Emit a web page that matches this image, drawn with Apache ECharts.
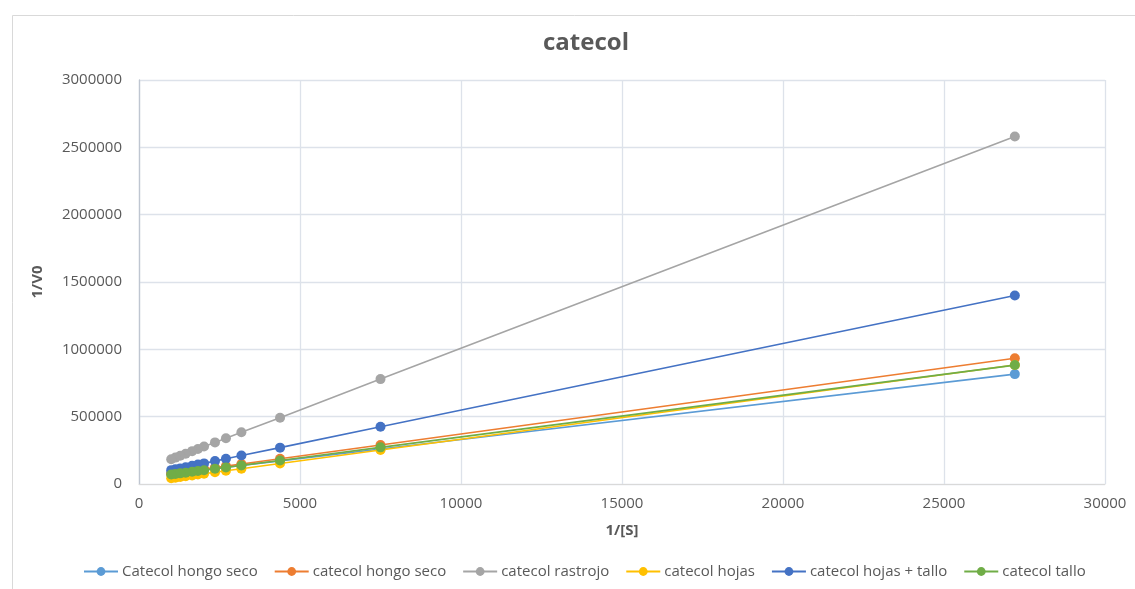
<!DOCTYPE html>
<html>
<head>
<meta charset="utf-8">
<script src="https://cdn.jsdelivr.net/npm/echarts@6/dist/echarts.min.js"></script>
<style>
  html, body { margin: 0; padding: 0; background: #fff; }
  #chart { width: 1135px; height: 589px; }
</style>
</head>
<body>
<div id="chart"></div>
<script>
// 1/[S] values shared by every series
const invS = [27200, 7500, 4380, 3180, 2700, 2360, 2020, 1830, 1650, 1450, 1280, 1130, 1000];

// 1/V0 per extract
const hongoSecoA   = [816000, 260000, 172000, 138000, 125000, 115000, 105000, 100000, 95000, 89000, 85000, 80000, 77000];
const hongoSecoB   = [934000, 290000, 188000, 149000, 133000, 122000, 111000, 105000, 99000, 92000, 87000, 82000, 78000];
const rastrojo     = [2580000, 779000, 492000, 384000, 340000, 309000, 278000, 260000, 244000, 225000, 210000, 196000, 184000];
const hojas        = [884000, 252000, 152000, 113000, 98000, 87000, 76000, 70000, 64000, 58000, 52000, 47000, 43000];
const hojasTallo   = [1400000, 425000, 270000, 211000, 187000, 170000, 153000, 144000, 135000, 125000, 116000, 109000, 103000];
const tallo        = [883000, 272000, 175000, 138000, 123000, 113000, 102000, 96000, 91000, 84000, 79000, 75000, 70500];

const seriesNames  = ['Catecol hongo seco', 'catecol hongo seco', 'catecol rastrojo', 'catecol hojas', 'catecol hojas + tallo', 'catecol tallo'];
const seriesValues = [hongoSecoA, hongoSecoB, rastrojo, hojas, hojasTallo, tallo];
const colors       = ['#5B9BD5', '#ED7D31', '#A5A5A5', '#FFC000', '#4472C4', '#70AD47'];

const textColor = '#595959';
const font = 'Open Sans';

const chart = echarts.init(document.getElementById('chart'), null, { renderer: 'canvas' });

chart.setOption({
  animation: false,
  backgroundColor: '#ffffff',
  color: colors,
  textStyle: { fontFamily: font },
  graphic: [{
    type: 'rect',
    left: 10, top: 13,
    shape: { width: 1140, height: 600 },
    style: { fill: 'none', stroke: '#d9d9d9', lineWidth: 1 },
    silent: true
  }],
  title: {
    text: 'catecol',
    left: 538,
    top: 26,
    textStyle: { fontFamily: font, fontSize: 24, fontWeight: 'bold', color: textColor }
  },
  legend: {
    bottom: 5,
    left: 78,
    itemWidth: 34,
    itemHeight: 11,
    itemGap: 16,
    textStyle: { fontFamily: font, fontSize: 15, color: textColor, padding: [0, 0, 0, -1] },
    data: seriesNames
  },
  grid: { left: 139, right: 30, top: 80, bottom: 105, containLabel: false },
  xAxis: {
    type: 'value',
    min: 0, max: 30000, interval: 5000,
    name: '1/[S]',
    nameLocation: 'middle',
    nameGap: 39,
    nameTextStyle: { fontFamily: font, fontSize: 15, fontWeight: 'bold', color: textColor },
    axisLine: { show: true, lineStyle: { color: '#d9d9d9', width: 1 } },
    axisTick: { show: false },
    axisLabel: { color: textColor, fontSize: 15, fontFamily: font, margin: 12, formatter: v => String(v) },
    splitLine: { show: true, lineStyle: { color: '#dde2ea', width: 1.3 } }
  },
  yAxis: {
    type: 'value',
    min: 0, max: 3000000, interval: 500000,
    name: '1/V0',
    nameLocation: 'middle',
    nameGap: 94,
    nameRotate: 90,
    nameTextStyle: { fontFamily: font, fontSize: 15, fontWeight: 'bold', color: textColor },
    axisLine: { show: true, lineStyle: { color: '#bfc6d1', width: 1.3 } },
    axisTick: { show: false },
    axisLabel: { color: textColor, fontSize: 15, fontFamily: font, margin: 17, formatter: v => String(v) },
    splitLine: { show: true, lineStyle: { color: '#dde2ea', width: 1.3 } }
  },
  series: seriesNames.map((name, i) => ({
    name: name,
    type: 'line',
    data: invS.map((x, k) => [x, seriesValues[i][k]]),
    symbol: 'circle',
    symbolSize: 10,
    showSymbol: true,
    lineStyle: { width: 1.6, color: colors[i] },
    itemStyle: { color: colors[i] },
    z: 2 + i
  }))
});
</script>
</body>
</html>
